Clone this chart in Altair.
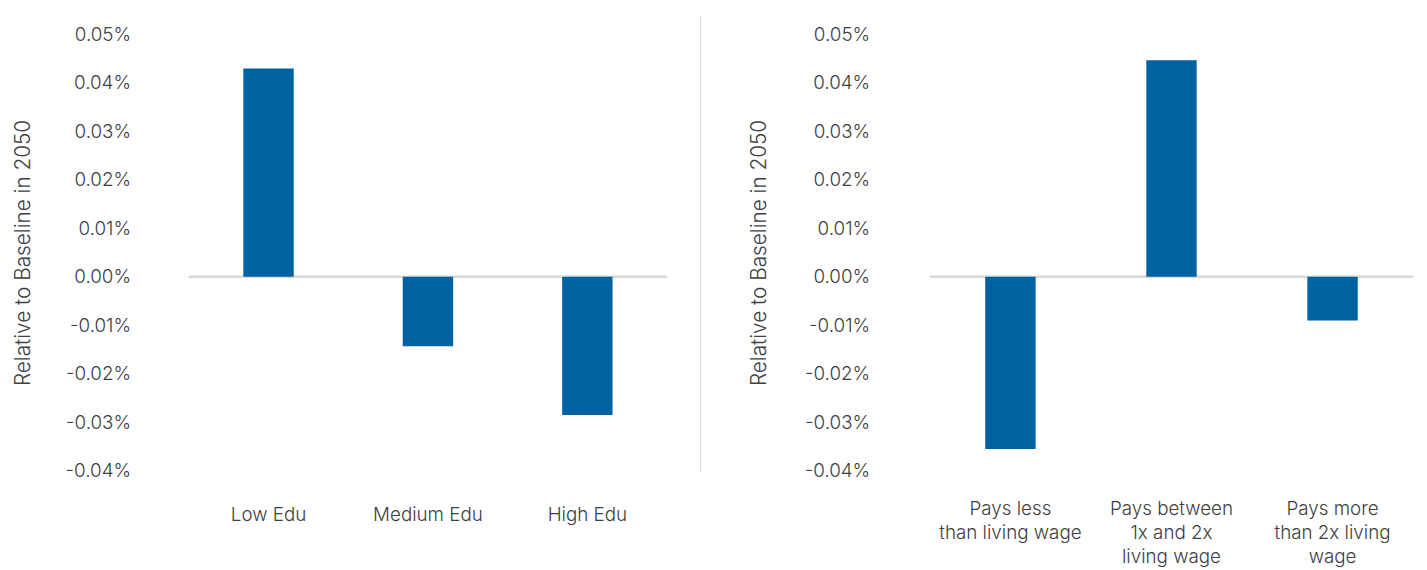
import altair as alt
import pandas as pd

# ---- data ----
edu_categories = ["Low Edu", "Medium Edu", "High Edu"]
edu_values = [0.0429, -0.0143, -0.0285]

wage_categories = [
    "Pays less|than living wage",
    "Pays between|1x and 2x|living wage",
    "Pays more|than 2x living|wage",
]
wage_values = [-0.0355, 0.0446, -0.0090]

y_ticks = [-0.04, -0.03, -0.02, -0.01, 0.0, 0.01, 0.02, 0.03, 0.04, 0.05]
y_title = "Relative to Baseline in 2050"

BAR = "#0062a0"
GRAY = "#d9d9d9"
TXT = "#404040"
FONT = "Inter"

label_expr_y = "(datum.value < -0.00001 ? '-' : '') + format(abs(datum.value), '.2f') + '%'"


def panel(cats, vals, width, ylabel_pad, title_pad, xlabel_pad, divider=False):
    df = pd.DataFrame({"cat": cats, "val": vals})
    base = alt.Chart(df)
    zero = base.mark_rule(color=GRAY, strokeWidth=2).encode(y=alt.datum(0))
    bars = base.mark_bar(color=BAR, size=51).encode(
        x=alt.X(
            "cat:N",
            sort=cats,
            scale=alt.Scale(paddingInner=0, paddingOuter=0),
            axis=alt.Axis(
                title=None,
                labelAngle=0,
                labelExpr="split(datum.label, '|')",
                labelLineHeight=24.5,
                labelLimit=0,
                labelPadding=xlabel_pad,
                labelFontSize=19,
                labelFont=FONT,
                labelFontWeight=300,
                labelColor=TXT,
                domain=False,
                ticks=False,
            ),
        ),
        y=alt.Y(
            "val:Q",
            scale=alt.Scale(domain=[-0.04, 0.05], nice=False, zero=True),
            axis=alt.Axis(
                title=y_title,
                values=y_ticks,
                labelExpr=label_expr_y,
                labelPadding=ylabel_pad,
                labelFontSize=19,
                labelFont=FONT,
                labelFontWeight=300,
                labelColor=TXT,
                titleFontSize=21,
                titleFont=FONT,
                titleFontWeight=300,
                titleColor=TXT,
                titlePadding=title_pad,
                domain=False,
                ticks=False,
                grid=False,
            ),
        ),
    )
    layers = [zero, bars]
    if divider:
        ddf = pd.DataFrame({"d": [0]})
        div = alt.Chart(ddf).mark_rule(color=GRAY, strokeWidth=1).encode(
            x=alt.value(518), y=alt.value(-19), y2=alt.value(444)
        )
        layers.append(div)
    return alt.layer(*layers).properties(width=width, height=442)


left = panel(edu_categories, edu_values, 484, 59, 32, 35, divider=True)
right = panel(wage_categories, wage_values, 489, 61, 35, 29)

chart = (
    alt.hconcat(left, right, spacing=266, bounds="flush")
    .properties(padding={"left": 4, "top": 3, "right": 5, "bottom": 5})
    .configure(font=FONT)
    .configure_view(strokeWidth=0)
)

chart.save("out.html", embed_options={"renderer": "svg", "actions": False})
